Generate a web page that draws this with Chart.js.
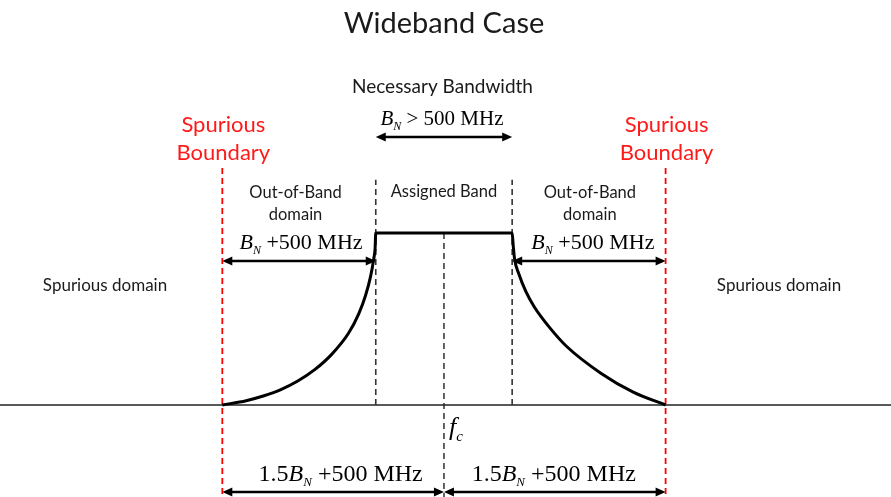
<!DOCTYPE html>
<html>
<head>
<meta charset="utf-8">
<script src="https://cdn.jsdelivr.net/npm/chart.js@4.4.1/dist/chart.umd.min.js"></script>
<style>
  body { margin: 0; background: #fff; }
  #wrap { width: 891px; height: 497px; }
</style>
</head>
<body>
<div id="wrap"><canvas id="mask" width="891" height="497"></canvas></div>
<script>
// frequency offsets from fc in MHz (BN taken as 4000 MHz), level 0 = floor, 1 = in-band
const leftFreq   = [-6500, -5800, -5300, -4800, -4300, -3800, -3300, -2800, -2500, -2300, -2150, -2060, -2020, -2000];
const leftLevel  = [0, 0.025, 0.052, 0.088, 0.138, 0.204, 0.293, 0.417, 0.53, 0.637, 0.749, 0.849, 0.91, 1];
const rightFreq  = [2000, 2030, 2070, 2200, 2400, 2650, 3100, 3600, 4600, 5550, 6500];
const rightLevel = [1, 0.93, 0.85, 0.76, 0.66, 0.57, 0.45, 0.34, 0.185, 0.075, 0];
const bandEdges = [-2000, 2000];
const spuriousBounds = [-6500, 6500];
const centerFreq = 0;

// view window of the diagram
const xMin = -13020, xMax = 13110;
const yMin = -0.535, yMax = 2.355;

const pts = (xs, ys) => xs.map((x, i) => ({ x: x, y: ys[i] }));
const vline = (x, y0, y1) => [{ x: x, y: y0 }, { x: x, y: y1 }];
const maskPts = pts(leftFreq, leftLevel).concat(pts(rightFreq, rightLevel));

const datasets = [
  { data: maskPts, borderColor: '#000', borderWidth: 3, cubicInterpolationMode: 'monotone', order: 0 },
  { data: [{ x: xMin, y: 0 }, { x: xMax, y: 0 }], borderColor: '#222', borderWidth: 1.3, order: 5 }
];
bandEdges.forEach(f => datasets.push({ data: vline(f, 0, 1.31), borderColor: '#333', borderWidth: 1.6, borderDash: [6, 4], order: 3 }));
datasets.push({ data: vline(centerFreq, 1, yMin), borderColor: '#222', borderWidth: 1.4, borderDash: [6, 4], order: 3 });
spuriousBounds.forEach(f => datasets.push({ data: vline(f, 1.378, yMin), borderColor: '#ff0000', borderWidth: 1.8, borderDash: [6, 4], order: 2 }));

const SANS = 'Lato, "Open Sans", sans-serif';
const SERIF = '"Liberation Serif", "Times New Roman", serif';

function arrow(ctx, x0, x1, y) {
  const h = 10, w = 4.5;
  ctx.save();
  ctx.strokeStyle = '#000'; ctx.fillStyle = '#000'; ctx.lineWidth = 2.5;
  ctx.beginPath(); ctx.moveTo(x0 + 4, y); ctx.lineTo(x1 - 4, y); ctx.stroke();
  ctx.beginPath(); ctx.moveTo(x0, y); ctx.lineTo(x0 + h, y - w); ctx.lineTo(x0 + h, y + w); ctx.closePath(); ctx.fill();
  ctx.beginPath(); ctx.moveTo(x1, y); ctx.lineTo(x1 - h, y - w); ctx.lineTo(x1 - h, y + w); ctx.closePath(); ctx.fill();
  ctx.restore();
}

function text(ctx, s, x, y, size, color) {
  ctx.font = size + 'px ' + SANS;
  ctx.fillStyle = color || '#1a1a1a';
  ctx.textAlign = 'center';
  ctx.textBaseline = 'alphabetic';
  ctx.fillText(s, x, y);
}

// pieces: [text, italic, sub]
function math(ctx, parts, cx, y, size, align) {
  const fontOf = p => (p[1] ? 'italic ' : '') + (p[2] ? Math.round(size * 0.56) : size) + 'px ' + SERIF;
  let w = 0;
  parts.forEach(p => { ctx.font = fontOf(p); w += ctx.measureText(p[0]).width; });
  let x = align === 'left' ? cx : cx - w / 2;
  ctx.fillStyle = '#000';
  ctx.textAlign = 'left';
  parts.forEach(p => {
    ctx.font = fontOf(p);
    ctx.fillText(p[0], x, p[2] ? y + size * 0.22 : y);
    x += ctx.measureText(p[0]).width;
  });
}

const labels = {
  id: 'labels',
  afterDatasetsDraw(chart) {
    const ctx = chart.ctx;
    const sx = v => chart.scales.x.getPixelForValue(v);
    const lo = sx(bandEdges[0]), hi = sx(bandEdges[1]);
    const sl = sx(spuriousBounds[0]), sr = sx(spuriousBounds[1]), fc = sx(centerFreq);
    const oobL = (sl + lo) / 2, oobR = (hi + sr) / 2;

    text(ctx, 'Wideband Case', fc, 33, 29);
    text(ctx, 'Necessary Bandwidth', fc - 1.5, 93, 19);
    math(ctx, [['B', true], ['N', true, true], [' > 500 MHz']], fc - 2, 125, 21);
    arrow(ctx, lo, hi, 137);

    [sl, sr].forEach(x => {
      text(ctx, 'Spurious', x + 1, 132, 22, '#ff1a1a');
      text(ctx, 'Boundary', x + 1, 160, 22, '#ff1a1a');
    });
    text(ctx, 'Out-of-Band', oobL - 3.5, 198, 16.5);
    text(ctx, 'domain', oobL - 3.5, 220, 16.5);
    text(ctx, 'Out-of-Band', oobR + 1, 198, 16.5);
    text(ctx, 'domain', oobR + 1, 220, 16.5);
    text(ctx, 'Assigned Band', fc, 197, 16.5);

    math(ctx, [['B', true], ['N', true, true], [' +500 MHz']], oobL + 2, 249, 22);
    math(ctx, [['B', true], ['N', true, true], [' +500 MHz']], oobR + 4, 249, 22);
    arrow(ctx, sl, lo, 261);
    arrow(ctx, hi, sr, 261);

    text(ctx, 'Spurious domain', 105, 291, 17);
    text(ctx, 'Spurious domain', 779, 291, 17);

    math(ctx, [['f', true], ['c', true, true]], fc + 5, 435, 26, 'left');

    math(ctx, [['1.5'], ['B', true], ['N', true, true], [' +500 MHz']], (sl + fc) / 2 + 7.5, 481, 24);
    math(ctx, [['1.5'], ['B', true], ['N', true, true], [' +500 MHz']], (fc + sr) / 2 - 1, 481, 24);
    arrow(ctx, sl, fc, 492);
    arrow(ctx, fc, sr, 492);
  }
};

new Chart(document.getElementById('mask'), {
  type: 'scatter',
  data: { datasets: datasets.map(d => Object.assign({ showLine: true, pointRadius: 0, fill: false }, d)) },
  options: {
    responsive: false,
    animation: false,
    layout: { padding: 0 },
    plugins: { legend: { display: false }, tooltip: { enabled: false }, title: { display: false } },
    scales: {
      x: { type: 'linear', display: false, min: xMin, max: xMax },
      y: { type: 'linear', display: false, min: yMin, max: yMax }
    }
  },
  plugins: [labels]
});
</script>
</body>
</html>
